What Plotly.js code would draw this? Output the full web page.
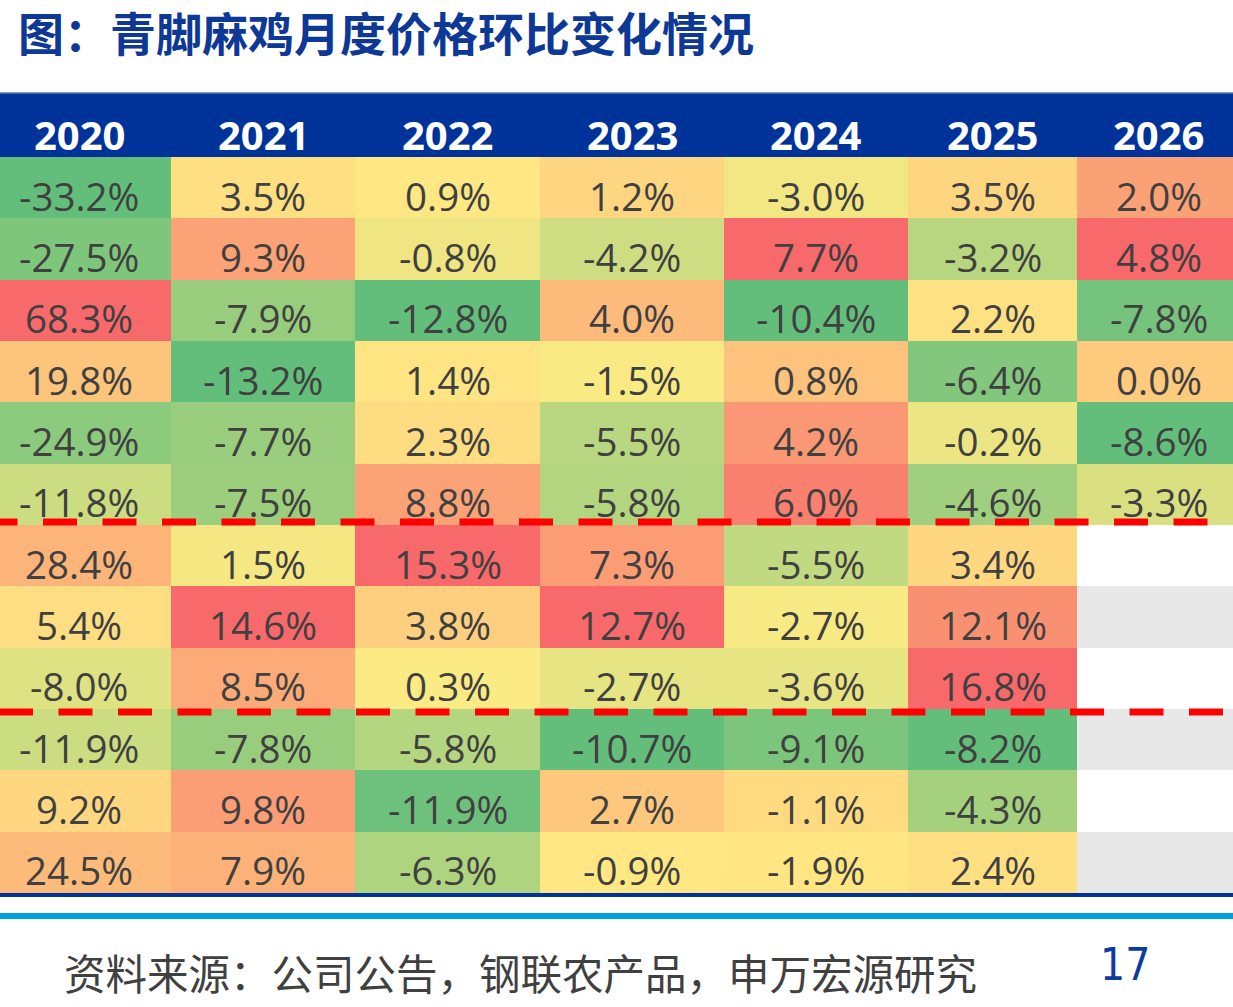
<!DOCTYPE html>
<html><head><meta charset="utf-8">
<script src="https://cdn.plot.ly/plotly-3.0.1.min.js"></script>
<style>html,body{margin:0;padding:0;background:#fff;}#chart{width:1233px;height:1007px;}</style>
</head><body><div id="chart"></div>
<script>
// ---------- data ----------
const years = ['2020','2021','2022','2023','2024','2025','2026'];
const months = ['1月','2月','3月','4月','5月','6月','7月','8月','9月','10月','11月','12月'];
const v2020 = [-33.2, -27.5, 68.3, 19.8, -24.9, -11.8, 28.4, 5.4, -8.0, -11.9, 9.2, 24.5];
const v2021 = [3.5, 9.3, -7.9, -13.2, -7.7, -7.5, 1.5, 14.6, 8.5, -7.8, 9.8, 7.9];
const v2022 = [0.9, -0.8, -12.8, 1.4, 2.3, 8.8, 15.3, 3.8, 0.3, -5.8, -11.9, -6.3];
const v2023 = [1.2, -4.2, 4.0, -1.5, -5.5, -5.8, 7.3, 12.7, -2.7, -10.7, 2.7, -0.9];
const v2024 = [-3.0, 7.7, -10.4, 0.8, 4.2, 6.0, -5.5, -2.7, -3.6, -9.1, -1.1, -1.9];
const v2025 = [3.5, -3.2, 2.2, -6.4, -0.2, -4.6, 3.4, 12.1, 16.8, -8.2, -4.3, 2.4];
const v2026 = [2.0, 4.8, -7.8, 0.0, -8.6, -3.3, null, null, null, null, null, null];
const seriesByYear = [v2020, v2021, v2022, v2023, v2024, v2025, v2026];
const dividerAfterMonth = [6, 9];   // dashed separators after these months
const titleText = '图：青脚麻鸡月度价格环比变化情况';
const sourceText = '资料来源：公司公告，钢联农产品，申万宏源研究';
const pageNo = '17';

// ---------- layout constants ----------
const W = 1233, H = 1007;
const colEdges = [-13, 171, 355, 540, 724, 908, 1077, 1240];
const plotTop = 157, plotBottom = 893;
const plotH = plotBottom - plotTop;
const py = y => (plotBottom - y) / plotH;       // pixel y -> paper y
const pxp = x => x / W;                          // pixel x -> paper x
const GREEN = '#63BE7B', YELLOW = '#FFEB84', RED = '#F8696B';
const NAVY = '#003399';
const rowIdx = months.map((m, i) => i);

function median(arr) {
  const s = arr.slice().sort((a, b) => a - b);
  const n = s.length;
  return n % 2 ? s[(n - 1) / 2] : (s[n / 2 - 1] + s[n / 2]) / 2;
}

const traces = [];
const annotations = [];

seriesByYear.forEach((vals, i) => {
  const present = vals.filter(v => v !== null);
  const mn = Math.min(...present), mx = Math.max(...present), md = median(present);
  const p = (md - mn) / (mx - mn);
  traces.push({
    type: 'heatmap',
    x: [colEdges[i], colEdges[i + 1]],
    y: rowIdx,
    z: vals.map(v => [v]),
    zmin: mn, zmax: mx,
    colorscale: [[0, GREEN], [p, YELLOW], [1, RED]],
    showscale: false, hoverinfo: 'skip'
  });
  if (vals.some(v => v === null)) {
    traces.push({
      type: 'heatmap',
      x: [colEdges[i], colEdges[i + 1]],
      y: rowIdx,
      z: vals.map((v, r) => [v === null ? r % 2 : null]),
      zmin: 0, zmax: 1,
      colorscale: [[0, '#FFFFFF'], [1, '#E8E8E8']],
      showscale: false, hoverinfo: 'skip'
    });
  }
  const cx = (colEdges[i] + colEdges[i + 1]) / 2;
  vals.forEach((v, r) => {
    if (v === null) return;
    annotations.push({
      x: cx, y: r, xref: 'x', yref: 'y', text: v.toFixed(1) + '%', showarrow: false,
      yshift: -8, font: { family: 'Open Sans, Noto Sans, sans-serif', size: 38.5, color: '#404040' }
    });
  });
  annotations.push({
    x: cx, y: py(134), xref: 'x', yref: 'paper', text: '<b>' + years[i] + '</b>', showarrow: false,
    yanchor: 'middle', font: { family: 'Open Sans, Noto Sans, sans-serif', size: 40, color: '#FFFFFF' }
  });
});

annotations.push({
  x: pxp(62), y: py(972), xref: 'paper', yref: 'paper', xanchor: 'left', yanchor: 'middle',
  text: sourceText, showarrow: false,
  font: { family: 'Noto Sans CJK SC, sans-serif', size: 41.5, color: '#404040' }
});
annotations.push({
  x: pxp(1125), y: py(964), xref: 'paper', yref: 'paper', xanchor: 'center', yanchor: 'middle',
  text: pageNo, showarrow: false,
  font: { family: 'Liberation Sans Narrow, DejaVu Sans Condensed, Liberation Sans, sans-serif', size: 44, color: '#0D3B9E' }
});

const shapes = [
  { type: 'rect', xref: 'paper', yref: 'paper', x0: 0, x1: 1, y0: 1, y1: py(93), fillcolor: NAVY, line: { width: 0 }, layer: 'below' },
  { type: 'line', xref: 'paper', yref: 'paper', x0: 0, x1: 1, y0: py(93), y1: py(93), line: { color: '#5A78BF', width: 1.5 } },
  { type: 'rect', xref: 'paper', yref: 'paper', x0: 0, x1: 1, y0: py(897), y1: py(893), fillcolor: NAVY, line: { width: 0 } },
  { type: 'rect', xref: 'paper', yref: 'paper', x0: 0, x1: 1, y0: py(919), y1: py(913), fillcolor: '#00A0DE', line: { width: 0 } }
];
const dashStart = [-16.5, -1];
const dashNudge = [-0.05, 0.05];
dividerAfterMonth.forEach((m, k) => {
  const yy = m - 0.5 + dashNudge[k];
  shapes.push({
    type: 'line', xref: 'paper', yref: 'y', x0: pxp(dashStart[k]), x1: 1.02, y0: yy, y1: yy,
    line: { color: '#FF0000', width: 7, dash: '34px,25.5px' }, layer: 'above'
  });
});

const layout = {
  width: W, height: H,
  margin: { l: 0, r: 0, t: plotTop, b: H - plotBottom, pad: 0 },
  paper_bgcolor: '#FFFFFF', plot_bgcolor: '#FFFFFF',
  title: {
    text: '<b>' + titleText + '</b>', xref: 'container', yref: 'container',
    x: 18 / W, xanchor: 'left', y: 1 - 34.5 / H, yanchor: 'middle',
    font: { family: 'Noto Sans CJK SC, sans-serif', size: 46, color: '#0E3896' }
  },
  xaxis: { range: [0, W], visible: false, fixedrange: true },
  yaxis: { range: [11.5, -0.5], visible: false, fixedrange: true },
  showlegend: false,
  shapes: shapes,
  annotations: annotations
};

Plotly.newPlot('chart', traces, layout, { displayModeBar: false, staticPlot: true });
</script>
</body></html>
